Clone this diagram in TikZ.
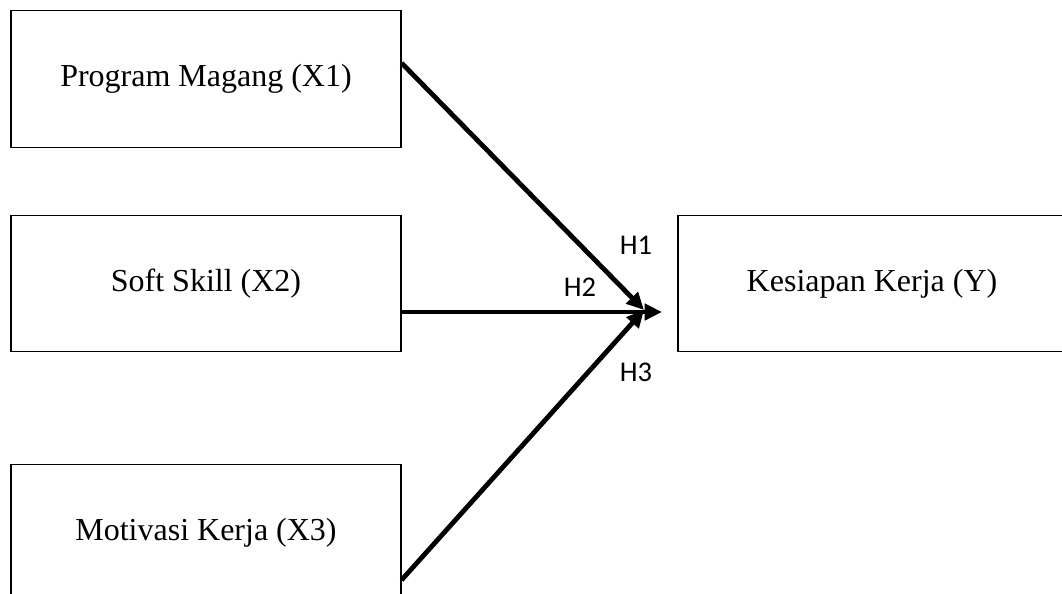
\documentclass[tikz,border=0pt]{standalone}
\usepackage{fontspec}
\setmainfont{Liberation Serif}
\newfontfamily\hfont{Carlito}
\usetikzlibrary{arrows.meta,calc}

\begin{document}
\begin{tikzpicture}[x=0.75pt,y=-0.75pt,
  box/.style={draw,line width=0.8pt,minimum width=292.5pt,minimum height=102.5pt,font=\fontsize{24}{28}\selectfont},
  hyp/.style={font=\hfont\fontsize{21.4}{25}\selectfont},
  link/.style={line width=3.6pt,-{Triangle[length=13pt,width=12pt]}}]

\useasboundingbox (0,0) rectangle (1062,593);

\node[box] (x1) at (206,79) {Program Magang (X1)};
\node[box] (x2) at (206,283.5) {Soft Skill (X2)};
\node[box] (x3) at (206,533) {Motivasi Kerja (X3)};
\node[box,minimum width=291pt] (y) at (872,283.5) {Kesiapan Kerja (Y)};

\node[hyp] (h1) at (636,245) {H1};
\node[hyp] (h2) at (580,287) {H2};
\node[hyp] (h3) at (636,372) {H3};

\coordinate (meet) at (644,310);
\coordinate (tip) at (662,312);

\draw[link] ($(x1.east)+(0,-16)$) -- (meet);
\draw[link] ($(x2.east)+(0,28.5)$) -- (tip);
\draw[link] ($(x3.east)+(0,47)$) -- (meet);
\end{tikzpicture}
\end{document}
